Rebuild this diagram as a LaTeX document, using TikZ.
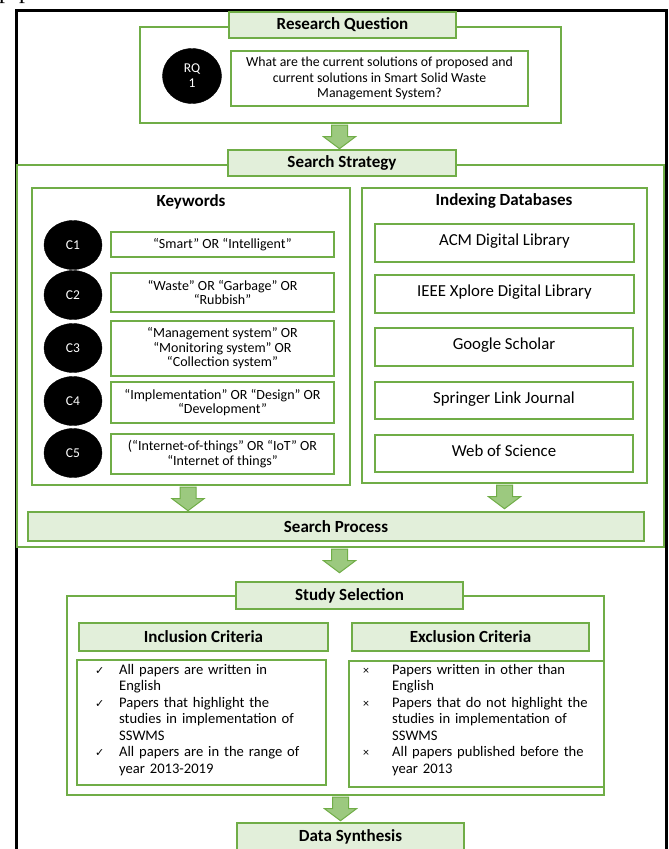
\documentclass[tikz,border=0pt]{standalone}
\usepackage{fontspec}
\setmainfont{Carlito}
\newfontfamily\symf{DejaVu Sans}
\newfontfamily\timesf{Liberation Serif}
\usetikzlibrary{shapes.geometric,calc}
\definecolor{gb}{HTML}{70AD47}
\definecolor{gfill}{HTML}{E2EFDA}
\definecolor{garrow}{HTML}{9CC97F}
\newcommand\fs[2]{\fontsize{#1}{#2}\selectfont}
\newcommand\rbox[7]{\node[#1,minimum width={(#5)-(#3)},minimum height={(#6)-(#4)}] (#2) at ({((#3)+(#5))/2},{((#4)+(#6))/2}) {#7};}
\newcommand\barrow[3]{%
  \path let \p1=(#2.center), \p2=(#1.south) in
  [draw=gb, line width=1pt, fill=garrow]
  ({\x1+(#3pt)-8pt},{\y2-1.5pt}) -- ({\x1+(#3pt)+8pt},{\y2-1.5pt}) -- ({\x1+(#3pt)+8pt},{\y2-13pt})
  -- ({\x1+(#3pt)+16pt},{\y2-13pt}) -- ({\x1+(#3pt)},{\y2-25pt}) -- ({\x1+(#3pt)-16pt},{\y2-13pt})
  -- ({\x1+(#3pt)-8pt},{\y2-13pt}) -- cycle;}
\tikzset{
  gbox/.style={draw=gb, line width=1.4pt, inner sep=0pt, fill=white, align=center},
  tbox/.style={gbox, fill=gfill, font=\fs{17}{20}\bfseries},
  qtext/.style={gbox, font=\fs{13.8}{15.5}},
  ktext/.style={gbox, font=\fs{14}{14.5}},
  dtext/.style={gbox, font=\fs{16.8}{17}},
  blob/.style={ellipse, fill=black, draw=black, inner sep=0pt, text=white, align=center, font=\fs{13.5}{15}, minimum width=58pt, minimum height=49pt},
  ttl/.style={font=\fs{17}{20}\bfseries, inner sep=0pt},
  ltext/.style={inner sep=0pt, anchor=north west, text width=230pt, align=left, font=\fs{14.6}{16.5}},
}
\newcommand\chk{\makebox[24pt][l]{\symf\fs{11}{16.5}✓}}
\newcommand\crs{\makebox[29pt][l]{\fs{12}{16.5}×}}
\begin{document}
\begin{tikzpicture}[x=1pt,y=-1pt]
\useasboundingbox (0,0) rectangle (669,849);
\clip (0,0) rectangle (669,849);
\fill[white] (0,0) rectangle (669,849);
\node[anchor=base west, inner sep=0pt, font=\timesf\fs{24}{24}] (pp) at (-1,-2) {p\,\,p};
\draw[line width=2.2pt] (16.5,870) -- (16.5,10.5) -- (666.5,10.5) -- (666.5,870);
% research question
\rbox{gbox}{rqbox}{140}{27}{561}{123}{}
\rbox{tbox}{rqtitle}{229}{12}{456}{38}{Research Question}
\node[blob, minimum width=59pt, minimum height=55pt] (rq) at (192,76) {RQ\\1};
\rbox{qtext}{rqq}{231}{51}{528}{106}{What are the current solutions of proposed and\\current solutions in Smart Solid Waste\\Management System?}
% search strategy
\rbox{gbox}{ssbox}{17}{165}{664}{547}{}
\barrow{rqbox}{rqtitle}{-3}
\rbox{tbox}{sstitle}{228}{150}{456}{176}{Search Strategy}
\rbox{gbox}{kwbox}{32}{188}{350}{485}{}
\node[ttl] (kwt) at (191,202) {Keywords};
\node[blob] (c1) at (73,245) {C1};
\node[blob] (c2) at (73,295) {C2};
\node[blob] (c3) at (73,348) {C3};
\node[blob] (c4) at (73,401) {C4};
\node[blob] (c5) at (73,453) {C5};
\rbox{ktext}{k1}{111}{232}{334}{257}{“Smart” OR “Intelligent”}
\rbox{ktext}{k2}{111}{273}{334}{312}{“Waste” OR “Garbage” OR\\“Rubbish”}
\rbox{ktext}{k3}{111}{321}{334}{376}{“Management system” OR\\“Monitoring system” OR\\“Collection system”}
\rbox{ktext}{k4}{111}{382}{334}{423}{“Implementation” OR “Design” OR\\“Development”}
\rbox{ktext}{k5}{111}{434}{334}{474}{(“Internet-of-things” OR “IoT” OR\\“Internet of things”}
\rbox{gbox}{dbbox}{362}{188}{647}{483}{}
\node[ttl] (dbt) at (504,201) {Indexing Databases};
\rbox{dtext}{d1}{375}{224}{634}{262}{ACM Digital Library\\[-11pt]\mbox{}}
\rbox{dtext}{d2}{375}{275}{634}{313}{IEEE Xplore Digital Library\\[-11pt]\mbox{}}
\rbox{dtext}{d3}{375}{328}{633}{366}{Google Scholar\\[-11pt]\mbox{}}
\rbox{dtext}{d4}{375}{382}{633}{419}{Springer Link Journal\\[-11pt]\mbox{}}
\rbox{dtext}{d5}{375}{435}{633}{472}{Web of Science\\[-11pt]\mbox{}}
\barrow{kwbox}{kwbox}{-3}
\barrow{dbbox}{dbbox}{0}
\rbox{tbox}{sp}{28}{512}{644}{541}{Search Process}
% study selection
\barrow{ssbox}{ssbox}{-1}
\rbox{gbox}{slbox}{67}{596}{604}{795}{}
\rbox{tbox}{sltitle}{236}{582}{463}{609}{Study Selection}
\rbox{tbox}{inct}{79}{623}{328}{651}{Inclusion Criteria}
\rbox{tbox}{exct}{352}{623}{589}{651}{Exclusion Criteria}
\rbox{gbox}{incl}{77}{660}{326}{785}{}
\rbox{gbox}{excl}{349}{661}{604}{787}{}
\node[ltext] (inctext) at (95,664) {%
\hangindent=24pt\hangafter=1\noindent\chk All papers are written in\hfil\break English\par
\hangindent=24pt\hangafter=1\noindent\chk Papers that highlight the\hfil\break studies in implementation of\hfil\break SSWMS\par
\hangindent=24pt\hangafter=1\noindent\chk All papers are in the range of\hfil\break year 2013-2019\par};
\node[ltext] (exctext) at (363,664) {%
\hangindent=29pt\hangafter=1\noindent\crs Papers written in other than\hfil\break English\par
\hangindent=29pt\hangafter=1\noindent\crs Papers that do not highlight the\hfil\break studies in implementation of\hfil\break SSWMS\par
\hangindent=29pt\hangafter=1\noindent\crs All papers published before the\hfil\break year 2013\par};
\barrow{slbox}{slbox}{5}
\rbox{tbox}{ds}{237}{823}{464}{851}{Data Synthesis}
\end{tikzpicture}
\end{document}
